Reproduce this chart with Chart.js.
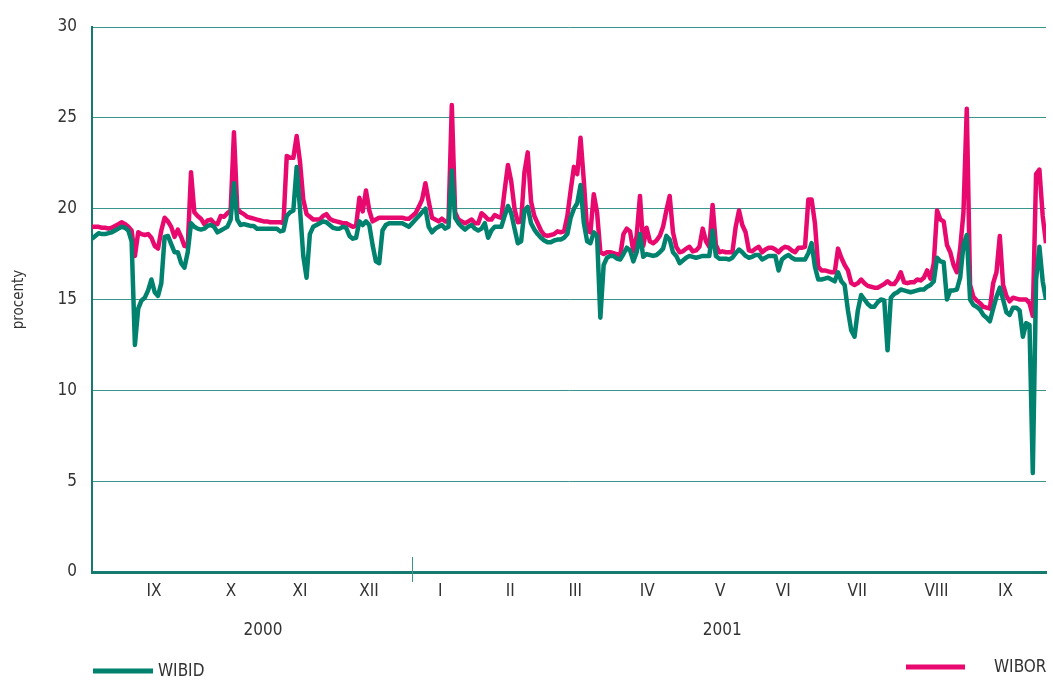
<!DOCTYPE html>
<html>
<head>
<meta charset="utf-8">
<title>WIBID / WIBOR</title>
<script src="https://cdn.jsdelivr.net/npm/chart.js@4"></script>
<style>
  html, body { margin: 0; padding: 0; background: #fff; }
  canvas { display: block; }
</style>
</head>
<body>
<canvas id="chartCanvas" width="1053" height="680"></canvas>
<script>
// daily fixings, one value per business day (Aug 2000 - Sep 2001)
const wibid = [
  18.35, 18.5, 18.65, 18.6, 18.6, 18.65, 18.7, 18.8, 18.9, 19.0,
  18.95, 18.8, 18.2, 12.5, 14.5, 14.95, 15.1, 15.5, 16.1, 15.4,
  15.2, 15.9, 18.45, 18.5, 18.05, 17.6, 17.6, 17.0, 16.75, 17.6,
  19.2, 19.0, 18.9, 18.85, 18.9, 19.05, 19.1, 19.0, 18.7, 18.8,
  18.9, 19.0, 19.4, 21.4, 19.4, 19.1, 19.15, 19.1, 19.05, 19.05,
  18.9, 18.9, 18.9, 18.9, 18.9, 18.9, 18.9, 18.75, 18.8, 19.6,
  19.8, 19.9, 22.3, 20.0, 17.4, 16.2, 18.6, 19.0, 19.1, 19.2,
  19.3, 19.25, 19.1, 18.95, 18.9, 18.9, 19.0, 18.95, 18.5, 18.35,
  18.4, 19.3, 19.1, 19.3, 19.1, 18.0, 17.1, 17.0, 18.8, 19.1,
  19.2, 19.2, 19.2, 19.2, 19.2, 19.1, 19.0, 19.2, 19.4, 19.6,
  19.8, 20.0, 19.0, 18.7, 18.9, 19.0, 19.1, 18.9, 19.0, 22.1,
  19.5, 19.2, 19.0, 18.85, 19.0, 19.1, 18.9, 18.8, 18.9, 19.2,
  18.4, 18.8, 19.0, 19.0, 19.0, 19.6, 20.15, 19.75, 18.9, 18.1,
  18.2, 19.9, 20.1, 19.2, 18.85, 18.6, 18.4, 18.25, 18.15, 18.15,
  18.25, 18.3, 18.3, 18.4, 18.6, 19.5, 20.0, 20.3, 21.3, 19.2,
  18.2, 18.1, 18.7, 18.5, 14.0, 16.9, 17.3, 17.4, 17.4, 17.25,
  17.2, 17.5, 17.85, 17.7, 17.1, 17.6, 18.6, 17.35, 17.5, 17.45,
  17.4, 17.45, 17.6, 17.8, 18.5, 18.3, 17.6, 17.4, 17.0, 17.15,
  17.3, 17.4, 17.35, 17.3, 17.35, 17.4, 17.4, 17.4, 18.8, 17.4,
  17.25, 17.25, 17.25, 17.2, 17.3, 17.55, 17.75, 17.6, 17.4, 17.3,
  17.35, 17.45, 17.45, 17.2, 17.3, 17.4, 17.4, 17.4, 16.6, 17.2,
  17.35, 17.45, 17.3, 17.2, 17.2, 17.2, 17.2, 17.55, 18.1, 16.8,
  16.1, 16.1, 16.15, 16.2, 16.1, 16.0, 16.5, 16.0, 15.8, 14.4,
  13.3, 12.95, 14.4, 15.25, 15.0, 14.75, 14.6, 14.6, 14.85, 15.0,
  14.95, 12.2, 15.1, 15.3, 15.4, 15.55, 15.5, 15.45, 15.4, 15.45,
  15.5, 15.55, 15.55, 15.7, 15.8, 16.0, 17.3, 17.1, 17.05, 15.0,
  15.5, 15.5, 15.55, 16.2, 18.0, 18.55, 15.0, 14.7, 14.6, 14.45,
  14.15, 14.0, 13.8, 14.5, 15.15, 15.65, 15.0, 14.3, 14.15, 14.55,
  14.55, 14.4, 12.95, 13.7, 13.6, 5.45, 16.1, 17.9, 16.0, 15.0
];
const wibor = [
  19.0, 19.0, 19.0, 18.95, 18.95, 18.9, 18.95, 19.05, 19.15, 19.25,
  19.15, 19.0, 18.8, 17.4, 18.7, 18.6, 18.55, 18.6, 18.4, 17.95,
  17.8, 18.8, 19.5, 19.3, 19.0, 18.45, 18.85, 18.45, 17.95, 17.9,
  22.0, 19.8, 19.6, 19.45, 19.15, 19.35, 19.4, 19.2, 19.15, 19.6,
  19.55, 19.75, 19.9, 24.2, 20.0, 19.8, 19.7, 19.55, 19.5, 19.45,
  19.4, 19.35, 19.3, 19.3, 19.25, 19.25, 19.25, 19.25, 19.2, 22.9,
  22.8, 22.8, 24.0, 22.6, 20.5, 19.7, 19.55, 19.4, 19.4, 19.4,
  19.6, 19.7, 19.45, 19.35, 19.3, 19.25, 19.2, 19.2, 19.1, 19.0,
  19.05, 20.6, 19.85, 21.0, 19.9, 19.3, 19.4, 19.5, 19.5, 19.5,
  19.5, 19.5, 19.5, 19.5, 19.5, 19.45, 19.45, 19.6, 19.75, 20.1,
  20.5, 21.4, 20.4, 19.5, 19.4, 19.3, 19.45, 19.3, 19.3, 25.7,
  19.8, 19.4, 19.3, 19.2, 19.3, 19.4, 19.2, 19.2, 19.75, 19.6,
  19.4, 19.4, 19.65, 19.55, 19.5, 21.0, 22.4, 21.5, 20.0, 19.25,
  19.3, 22.0, 23.1, 20.4, 19.6, 19.2, 18.8, 18.55, 18.5, 18.55,
  18.6, 18.75, 18.7, 18.75, 19.6, 21.0, 22.3, 21.9, 23.9, 21.5,
  18.8, 18.7, 20.8, 19.8, 17.6, 17.5, 17.6, 17.6, 17.55, 17.5,
  17.4, 18.6, 18.9, 18.75, 17.65, 18.5, 20.7, 17.95, 18.95, 18.2,
  18.1, 18.25, 18.5, 19.0, 19.9, 20.7, 18.7, 17.9, 17.6, 17.65,
  17.8, 17.9, 17.65, 17.7, 17.9, 18.9, 18.2, 17.9, 20.2, 18.0,
  17.6, 17.65, 17.6, 17.6, 17.6, 19.0, 19.9, 19.1, 18.7, 17.7,
  17.65, 17.8, 17.9, 17.6, 17.75, 17.85, 17.85, 17.75, 17.6, 17.8,
  17.9, 17.85, 17.7, 17.6, 17.85, 17.85, 17.9, 20.5, 20.5, 19.2,
  16.8, 16.6, 16.6, 16.55, 16.5, 16.5, 17.8, 17.3, 16.9, 16.6,
  15.9, 15.8, 15.9, 16.1, 15.9, 15.75, 15.7, 15.65, 15.65, 15.75,
  15.85, 16.0, 15.85, 15.85, 16.1, 16.5, 15.95, 15.9, 15.95, 15.95,
  16.1, 16.05, 16.2, 16.6, 16.15, 17.0, 19.9, 19.4, 19.3, 18.0,
  17.6, 16.9, 16.5, 17.8, 19.8, 25.5, 15.8, 15.15, 14.95, 14.8,
  14.6, 14.55, 14.5, 15.9, 16.5, 18.5, 15.8, 15.2, 14.9, 15.1,
  15.05, 15.0, 15.0, 15.0, 14.8, 14.1, 21.9, 22.15, 19.6, 18.1
];

// month labels sit in the middle of each month (business-day index)
const monthLabels = ['IX', 'X', 'XI', 'XII', 'I', 'II', 'III', 'IV', 'V', 'VI', 'VII', 'VIII', 'IX'];
const monthMid = [18.8, 42.1, 63, 83.9, 105.5, 126.7, 146.4, 168.2, 190.3, 209.4, 231.8, 255.8, 276.7];
const years = ['2000', '2001'];
const yearMid = [51.8, 190.9];
const yearBreak = 97;

const fontFamily = '"Liberation Sans Narrow", "DejaVu Sans Condensed", "Open Sans", sans-serif';
const textColor = '#333333';
const tealColor = '#00826f';
const pinkColor = '#e8096e';
const gridColor = '#3a968d';

Chart.defaults.font.family = fontFamily;
Chart.defaults.color = textColor;

// year labels, year divider and the split legend under the axis
const extras = {
  id: 'extras',
  afterDraw(chart) {
    const ctx = chart.ctx;
    const xs = chart.scales.x;
    const bottom = chart.chartArea.bottom;
    ctx.save();

    const bx = Math.round(xs.getPixelForValue(yearBreak)) + 0.5;
    ctx.strokeStyle = gridColor;
    ctx.lineWidth = 1;
    ctx.beginPath();
    ctx.moveTo(bx, bottom - 15);
    ctx.lineTo(bx, bottom + 10);
    ctx.stroke();

    ctx.fillStyle = textColor;
    ctx.font = '17px ' + fontFamily;
    ctx.textAlign = 'center';
    ctx.textBaseline = 'middle';
    years.forEach((y, i) => ctx.fillText(y, xs.getPixelForValue(yearMid[i]), bottom + 59));

    const items = [
      { label: 'WIBID', color: tealColor, x0: 93, x1: 153, tx: 158, y: 671 },
      { label: 'WIBOR', color: pinkColor, x0: 906, x1: 965, tx: 994, y: 667 }
    ];
    ctx.textAlign = 'left';
    items.forEach(it => {
      ctx.strokeStyle = it.color;
      ctx.lineWidth = 5;
      ctx.beginPath();
      ctx.moveTo(it.x0, it.y);
      ctx.lineTo(it.x1, it.y);
      ctx.stroke();
      ctx.fillText(it.label, it.tx, it.y + 1);
    });
    ctx.restore();
  }
};

const ctx = document.getElementById('chartCanvas').getContext('2d');
const chart = new Chart(ctx, {
  type: 'line',
  data: {
    datasets: [
      {
        label: 'WIBID',
        data: wibid.map((v, i) => ({ x: i, y: v })),
        borderColor: tealColor,
        borderWidth: 4.5,
        pointRadius: 0,
        tension: 0,
        borderJoinStyle: 'round',
        order: 0
      },
      {
        label: 'WIBOR',
        data: wibor.map((v, i) => ({ x: i, y: v })),
        borderColor: pinkColor,
        borderWidth: 4.5,
        pointRadius: 0,
        tension: 0,
        borderJoinStyle: 'round',
        order: 1
      }
    ]
  },
  options: {
    responsive: false,
    animation: false,
    devicePixelRatio: 1,
    layout: { padding: { top: 27, right: 7, bottom: 0, left: 0 } },
    plugins: {
      legend: { display: false },
      tooltip: { enabled: false }
    },
    scales: {
      x: {
        type: 'linear',
        min: 0,
        max: wibid.length - 1,
        afterFit: axis => { axis.height = 108; },
        afterBuildTicks: axis => { axis.ticks = monthMid.map(v => ({ value: v })); },
        grid: { display: false, drawTicks: false },
        border: { display: true, color: '#157a70', width: 3 },
        ticks: {
          autoSkip: false,
          maxRotation: 0,
          padding: 9,
          font: { size: 17 },
          color: textColor,
          callback: (value, index) => monthLabels[index]
        }
      },
      y: {
        min: 0,
        max: 30,
        afterFit: axis => { axis.width = 92; },
        grid: { color: gridColor, lineWidth: 1, drawTicks: false },
        border: { display: true, color: '#157a70', width: 2 },
        ticks: {
          stepSize: 5,
          padding: 15,
          font: { size: 17 },
          color: textColor
        },
        title: {
          display: true,
          text: 'procenty',
          font: { size: 15 },
          color: textColor,
          padding: { top: 10, bottom: 0 }
        }
      }
    }
  },
  plugins: [extras]
});
</script>
</body>
</html>
